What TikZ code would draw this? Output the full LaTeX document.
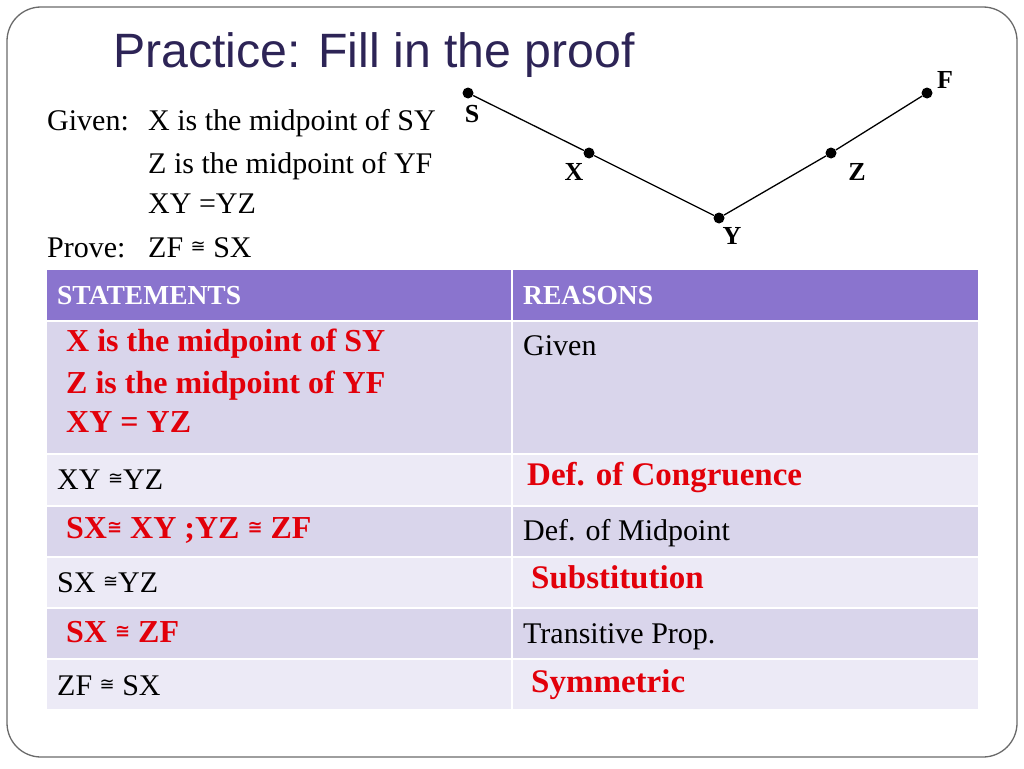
\documentclass[tikz,border=0pt]{standalone}
\usepackage{fontspec}
\setmainfont{Liberation Serif}
\newfontfamily\titlefont{Liberation Sans}
\newfontfamily\symf{DejaVu Sans}
\definecolor{hdr}{HTML}{8A74CE}
\definecolor{rowd}{HTML}{D9D5EB}
\definecolor{rowl}{HTML}{ECEAF6}
\definecolor{redt}{HTML}{E2000A}
\definecolor{titlec}{HTML}{2D2456}
\definecolor{framec}{HTML}{6A6A6A}
\newcommand{\cg}{{\symf\fontsize{18}{18}\selectfont\raisebox{5pt}{≅}}}
\newcommand{\cgb}{{\symf\bfseries\fontsize{18}{18}\selectfont\raisebox{5pt}{≅}}}
\tikzset{
  txt/.style={anchor=base west, inner sep=0pt, font=\fontsize{30}{42}\selectfont},
  redst/.style={anchor=base west, inner sep=0pt, text=redt, font=\bfseries\fontsize{32}{42}\selectfont},
  redre/.style={anchor=base west, inner sep=0pt, text=redt, font=\bfseries\fontsize{33}{42}\selectfont},
  hdrtxt/.style={anchor=base west, inner sep=0pt, text=white, font=\bfseries\fontsize{27.5}{30}\selectfont},
  pt/.style={circle, fill=black, inner sep=0pt, minimum size=11pt},
  ptlbl/.style={inner sep=0pt, font=\bfseries\fontsize{26}{26}\selectfont},
  seg/.style={black, line width=1.3pt}
}
\begin{document}
\begin{tikzpicture}[x=1pt,y=-1pt]
\useasboundingbox (0,0) rectangle (1024,768);
\fill[white] (0,0) rectangle (1024,768);
% frame
\draw[framec, line width=1.3pt, rounded corners=34pt] (7,7) rectangle (1017,757);
% title
\node[anchor=base west, inner sep=0pt, text=titlec, font=\titlefont\fontsize{48.2}{50}\selectfont] (title) at (113,67) {Practice: Fill in the proof};
% given / prove
\node[txt] (given) at (47,130) {Given:};
\node[txt] (g1) at (148,130) {X is the midpoint of SY};
\node[txt] (g2) at (148,173) {Z is the midpoint of YF};
\node[txt] (g3) at (148,213) {XY =YZ};
\node[txt] (prove) at (47,257) {Prove:};
\node[txt] (p1) at (148,257) {ZF \cg{} SX};
% geometry
\node[pt] (S) at (468,93) {};
\node[pt] (X) at (589,153) {};
\node[pt] (Y) at (719,218) {};
\node[pt] (Z) at (831,153) {};
\node[pt] (F) at (927,93) {};
\draw[seg] (S) -- (X);
\draw[seg] (X) -- (Y);
\draw[seg] (Y) -- (Z);
\draw[seg] (Z) -- (F);
\node[ptlbl] (lS) at (472,114) {S};
\node[ptlbl] (lX) at (574,172) {X};
\node[ptlbl] (lY) at (732,236) {Y};
\node[ptlbl] (lZ) at (857,172) {Z};
\node[ptlbl] (lF) at (945,80) {F};
% table
\foreach \ya/\yb/\c in {270/320/hdr, 322/453/rowd, 455/505/rowl, 507/556/rowd, 558/607/rowl, 609/658/rowd, 660/709/rowl} {
  \fill[\c] (47,\ya) rectangle (511,\yb);
  \fill[\c] (513,\ya) rectangle (978,\yb);
}
\node[hdrtxt] (hs) at (57,304) {STATEMENTS};
\node[hdrtxt] (hr) at (523,304) {REASONS};
\node[redst] (s1a) at (66,351) {X is the midpoint of SY};
\node[redst] (s1b) at (66,393) {Z is the midpoint of YF};
\node[redst] (s1c) at (66,432) {XY = YZ};
\node[txt] (r1) at (523,355) {Given};
\node[txt] (s2) at (57,489) {XY \cg{}YZ};
\node[redre] (r2) at (527,485) {Def. of Congruence};
\node[redst] (s3) at (66,538) {SX\cgb{} XY ;YZ \cgb{} ZF};
\node[txt] (r3) at (523,540) {Def. of Midpoint};
\node[txt] (s4) at (57,592) {SX \cg{}YZ};
\node[redre] (r4) at (531,588) {Substitution};
\node[redst] (s5) at (66,642) {SX \cgb{} ZF};
\node[txt] (r5) at (523,643) {Transitive Prop.};
\node[txt] (s6) at (57,695) {ZF \cg{} SX};
\node[redre] (r6) at (531,692) {Symmetric};
\end{tikzpicture}
\end{document}
